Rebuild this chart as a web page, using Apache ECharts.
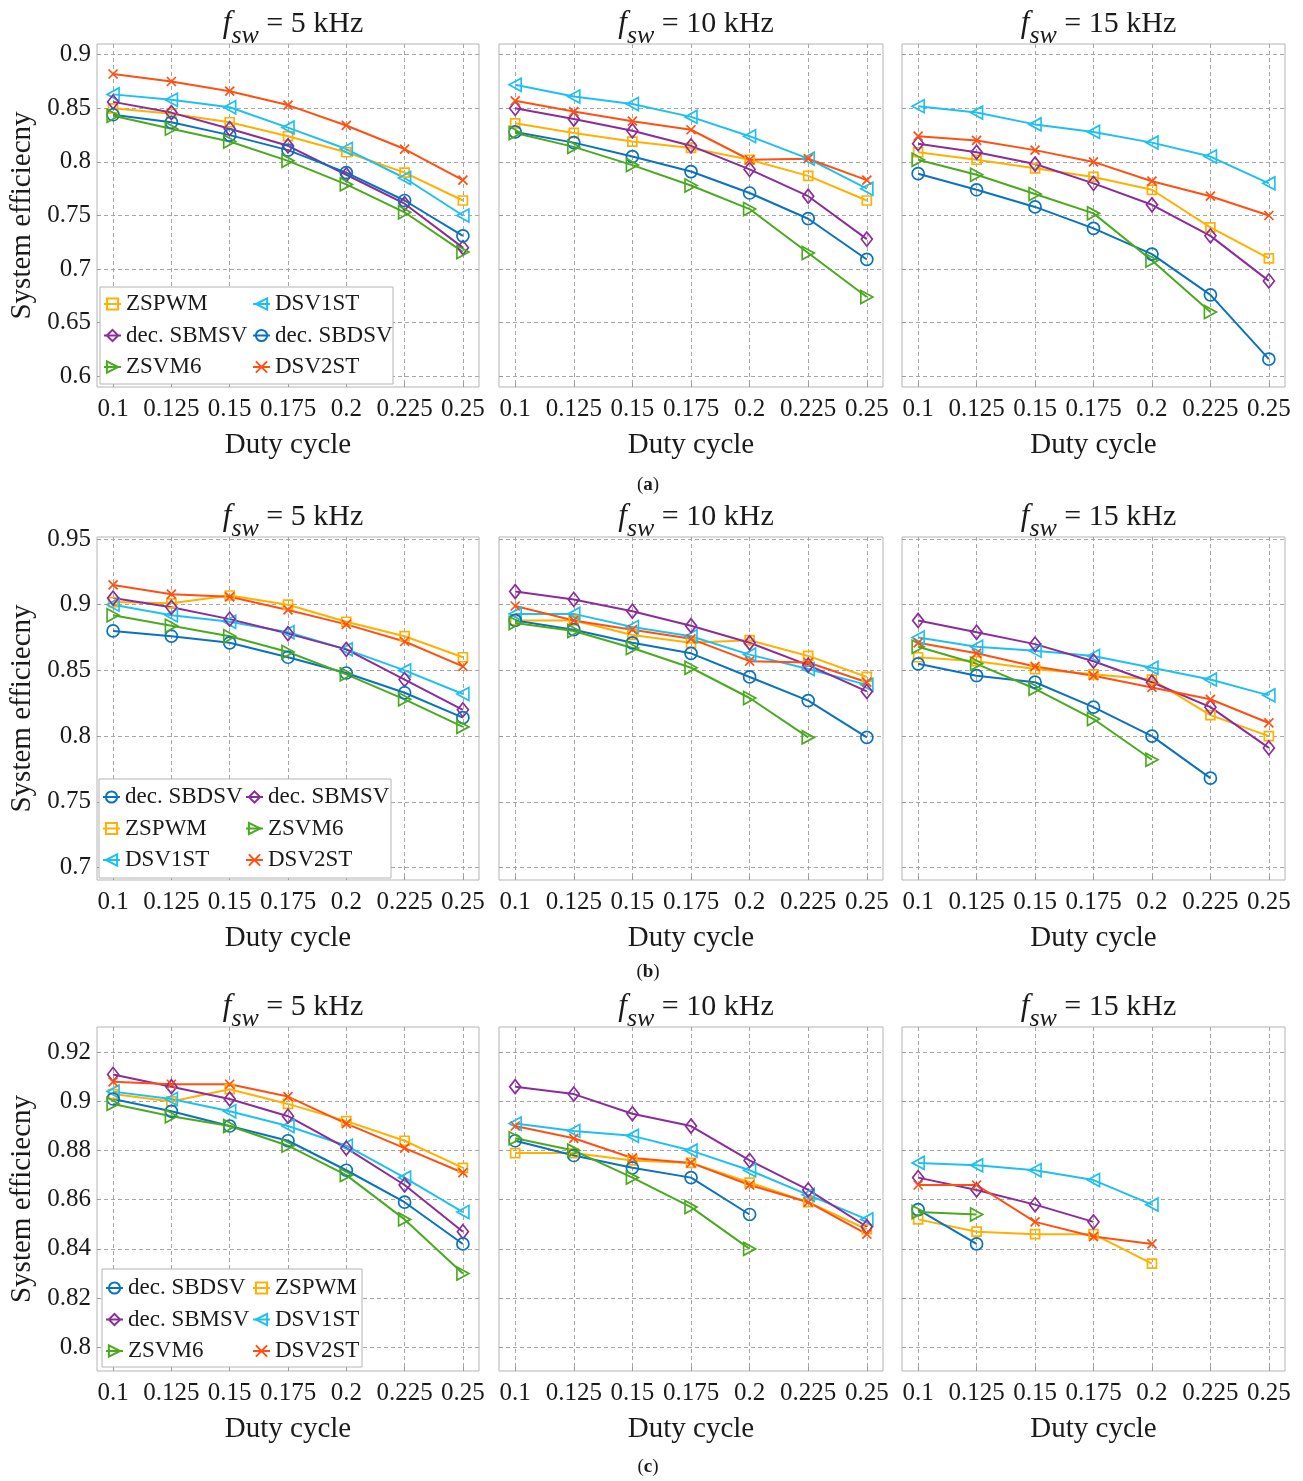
<!DOCTYPE html>
<html>
<head>
<meta charset="utf-8">
<title>System efficiency vs duty cycle</title>
<script src="https://cdn.jsdelivr.net/npm/echarts@6/dist/echarts.min.js"></script>
<style>
  html, body { margin: 0; padding: 0; background: #fff; }
  #main { width: 1303px; height: 1481px; }
</style>
</head>
<body>
<div id="main"></div>
<script>
// ---- data ----
const dutyCycle = [0.1, 0.125, 0.15, 0.175, 0.2, 0.225, 0.25];
const seriesNames = ['ZSPWM', 'DSV1ST', 'dec. SBMSV', 'dec. SBDSV', 'ZSVM6', 'DSV2ST'];
const freqLabels = ['5 kHz', '10 kHz', '15 kHz'];
const rowLetters = ['a', 'b', 'c'];

const yTicksA = [0.6, 0.65, 0.7, 0.75, 0.8, 0.85, 0.9];
const yTicksB = [0.7, 0.75, 0.8, 0.85, 0.9, 0.95];
const yTicksC = [0.8, 0.82, 0.84, 0.86, 0.88, 0.9, 0.92];

// (a)
const a5 = {
    'ZSPWM':      [0.850, 0.845, 0.837, 0.824, 0.809, 0.790, 0.764],
    'DSV1ST':     [0.863, 0.858, 0.851, 0.832, 0.812, 0.785, 0.750],
    'dec. SBMSV': [0.856, 0.846, 0.831, 0.815, 0.788, 0.761, 0.720],
    'dec. SBDSV': [0.844, 0.837, 0.825, 0.811, 0.790, 0.764, 0.731],
    'ZSVM6':      [0.843, 0.831, 0.819, 0.801, 0.779, 0.753, 0.716],
    'DSV2ST':     [0.882, 0.875, 0.866, 0.853, 0.834, 0.812, 0.783]
};
const a10 = {
    'ZSPWM':      [0.836, 0.827, 0.819, 0.813, 0.802, 0.787, 0.764],
    'DSV1ST':     [0.872, 0.861, 0.854, 0.842, 0.824, 0.803, 0.775],
    'dec. SBMSV': [0.850, 0.840, 0.829, 0.815, 0.793, 0.768, 0.728],
    'dec. SBDSV': [0.828, 0.818, 0.805, 0.791, 0.771, 0.747, 0.709],
    'ZSVM6':      [0.827, 0.814, 0.797, 0.778, 0.756, 0.715, 0.674],
    'DSV2ST':     [0.857, 0.847, 0.838, 0.830, 0.802, 0.803, 0.783]
};
const a15 = {
    'ZSPWM':      [0.809, 0.802, 0.794, 0.786, 0.774, 0.739, 0.710],
    'DSV1ST':     [0.852, 0.846, 0.835, 0.828, 0.818, 0.805, 0.780],
    'dec. SBMSV': [0.817, 0.809, 0.798, 0.780, 0.760, 0.731, 0.689],
    'dec. SBDSV': [0.789, 0.774, 0.758, 0.738, 0.714, 0.676, 0.616],
    'ZSVM6':      [0.802, 0.788, 0.770, 0.752, 0.708, 0.660, null],
    'DSV2ST':     [0.824, 0.820, 0.811, 0.800, 0.782, 0.768, 0.750]
};
// (b)
const b5 = {
    'ZSPWM':      [0.902, 0.901, 0.907, 0.900, 0.887, 0.876, 0.860],
    'DSV1ST':     [0.900, 0.892, 0.887, 0.879, 0.866, 0.850, 0.832],
    'dec. SBMSV': [0.905, 0.898, 0.889, 0.878, 0.866, 0.843, 0.820],
    'dec. SBDSV': [0.880, 0.876, 0.871, 0.860, 0.848, 0.833, 0.814],
    'ZSVM6':      [0.892, 0.884, 0.876, 0.864, 0.847, 0.828, 0.807],
    'DSV2ST':     [0.915, 0.908, 0.906, 0.896, 0.885, 0.872, 0.853]
};
const b10 = {
    'ZSPWM':      [0.888, 0.888, 0.877, 0.871, 0.873, 0.861, 0.845],
    'DSV1ST':     [0.893, 0.893, 0.883, 0.876, 0.862, 0.851, 0.839],
    'dec. SBMSV': [0.910, 0.904, 0.895, 0.884, 0.871, 0.854, 0.834],
    'dec. SBDSV': [0.888, 0.881, 0.871, 0.863, 0.845, 0.827, 0.799],
    'ZSVM6':      [0.886, 0.880, 0.867, 0.852, 0.829, 0.799, null],
    'DSV2ST':     [0.899, 0.888, 0.881, 0.874, 0.857, 0.856, 0.841]
};
const b15 = {
    'ZSPWM':      [0.860, 0.857, 0.851, 0.847, 0.843, 0.816, 0.800],
    'DSV1ST':     [0.875, 0.868, 0.865, 0.861, 0.852, 0.843, 0.831],
    'dec. SBMSV': [0.888, 0.879, 0.870, 0.857, 0.841, 0.822, 0.791],
    'dec. SBDSV': [0.855, 0.846, 0.841, 0.822, 0.800, 0.768, null],
    'ZSVM6':      [0.868, 0.855, 0.836, 0.813, 0.782, null, null],
    'DSV2ST':     [0.871, 0.863, 0.853, 0.846, 0.837, 0.828, 0.810]
};
// (c)
const c5 = {
    'ZSPWM':      [0.903, 0.900, 0.905, 0.899, 0.892, 0.884, 0.873],
    'DSV1ST':     [0.904, 0.901, 0.896, 0.890, 0.882, 0.869, 0.855],
    'dec. SBMSV': [0.911, 0.906, 0.901, 0.894, 0.881, 0.866, 0.847],
    'dec. SBDSV': [0.901, 0.896, 0.890, 0.884, 0.872, 0.859, 0.842],
    'ZSVM6':      [0.899, 0.894, 0.890, 0.882, 0.870, 0.852, 0.830],
    'DSV2ST':     [0.908, 0.907, 0.907, 0.902, 0.891, 0.881, 0.871]
};
const c10 = {
    'ZSPWM':      [0.879, 0.879, 0.876, 0.875, 0.867, 0.859, 0.848],
    'DSV1ST':     [0.891, 0.888, 0.886, 0.880, 0.872, 0.862, 0.852],
    'dec. SBMSV': [0.906, 0.903, 0.895, 0.890, 0.876, 0.864, 0.849],
    'dec. SBDSV': [0.884, 0.878, 0.873, 0.869, 0.854, null, null],
    'ZSVM6':      [0.885, 0.880, 0.869, 0.857, 0.840, null, null],
    'DSV2ST':     [0.890, 0.885, 0.877, 0.875, 0.866, 0.859, 0.846]
};
const c15 = {
    'ZSPWM':      [0.852, 0.847, 0.846, 0.846, 0.834, null, null],
    'DSV1ST':     [0.875, 0.874, 0.872, 0.868, 0.858, null, null],
    'dec. SBMSV': [0.869, 0.864, 0.858, 0.851, null, null, null],
    'dec. SBDSV': [0.856, 0.842, null, null, null, null, null],
    'ZSVM6':      [0.855, 0.854, null, null, null, null, null],
    'DSV2ST':     [0.866, 0.866, 0.851, 0.845, 0.842, null, null]
};

// legend layout per row: two columns of three entries
const legendCols = [
    [['ZSPWM', 'dec. SBMSV', 'ZSVM6'], ['DSV1ST', 'dec. SBDSV', 'DSV2ST']],
    [['dec. SBDSV', 'ZSPWM', 'DSV1ST'], ['dec. SBMSV', 'ZSVM6', 'DSV2ST']],
    [['dec. SBDSV', 'dec. SBMSV', 'ZSVM6'], ['ZSPWM', 'DSV1ST', 'DSV2ST']]
];

// ---- styling ----
const FONT = 'Liberation Serif';
const TXT = '#1a1a1a';
const colors = {
    'ZSPWM': '#FFB000',
    'DSV1ST': '#1EC0F0',
    'dec. SBMSV': '#8B2C9A',
    'dec. SBDSV': '#0B72BE',
    'ZSVM6': '#4AAA1E',
    'DSV2ST': '#FF5012'
};
const symbols = {
    'ZSPWM': ['rect', 9],
    'DSV1ST': ['path://M10,0L0,5L10,10Z', [12, 13]],
    'dec. SBMSV': ['diamond', [11, 14]],
    'dec. SBDSV': ['circle', 12],
    'ZSVM6': ['path://M0,0L10,5L0,10Z', [12, 13]],
    'DSV2ST': ['path://M0,0L10,10M10,0L0,10', 9]
};

const rowData = [[a5, a10, a15], [b5, b10, b15], [c5, c10, c15]];
const rowY = [
    {top: 44, height: 343, min: 0.59, max: 0.91, ticks: yTicksA},
    {top: 537, height: 343, min: 0.6905, max: 0.9515, ticks: yTicksB},
    {top: 1027, height: 344, min: 0.7903, max: 0.9303, ticks: yTicksC}
];
const colX = [{left: 97, width: 382}, {left: 499, width: 384}, {left: 902, width: 383}];
const legendPos = [
    {box: [100, 287, 293, 97], left: [103, 252], top: 292},
    {box: [99, 779, 292, 99], left: [102, 245], top: 785},
    {box: [102, 1269, 260, 98], left: [105, 252], top: 1276}
];

const fmt = v => String(+v.toFixed(3));

const grid = [], xAxis = [], yAxis = [], series = [], title = [], legend = [], graphic = [];

for (let r = 0; r < 3; r++) {
    for (let c = 0; c < 3; c++) {
        const idx = r * 3 + c;
        grid.push({
            left: colX[c].left, top: rowY[r].top, width: colX[c].width, height: rowY[r].height,
            show: true, borderColor: '#b4b4b4', borderWidth: 1, backgroundColor: '#fff',
            outerBoundsMode: 'none'
        });
        xAxis.push({
            type: 'value', gridIndex: idx, min: 0.0931, max: 0.2569,
            name: 'Duty cycle', nameLocation: 'middle', nameGap: 44,
            nameTextStyle: {fontFamily: FONT, fontSize: 29, color: TXT},
            axisLine: {show: false},
            axisTick: {show: true, inside: true, length: 4, customValues: dutyCycle, lineStyle: {color: '#9a9a9a'}},
            axisLabel: {customValues: dutyCycle, formatter: fmt, margin: 10,
                fontFamily: FONT, fontSize: 25, color: TXT},
            splitLine: {show: true, lineStyle: {color: '#a6a6a6', type: [4, 3], width: 1}}
        });
        yAxis.push({
            type: 'value', gridIndex: idx, min: rowY[r].min, max: rowY[r].max,
            name: c === 0 ? 'System efficiecny' : '', nameLocation: 'middle', nameGap: 60,
            nameTextStyle: {fontFamily: FONT, fontSize: 29, color: TXT},
            axisLine: {show: false},
            axisTick: {show: true, inside: true, length: 4, customValues: rowY[r].ticks, lineStyle: {color: '#9a9a9a'}},
            axisLabel: {show: c === 0, customValues: rowY[r].ticks, formatter: fmt, margin: 6,
                fontFamily: FONT, fontSize: 25, color: TXT},
            splitLine: {show: true, lineStyle: {color: '#a6a6a6', type: [4, 3], width: 1}}
        });
        title.push({
            text: '{i|f}{s|sw}{n| = ' + freqLabels[c] + '}',
            left: colX[c].left + colX[c].width / 2, top: rowY[r].top - 50, textAlign: 'center',
            textStyle: {
                fontWeight: 'normal',
                rich: {
                    i: {fontFamily: FONT, fontStyle: 'italic', fontWeight: 'normal', fontSize: 31, color: TXT},
                    s: {fontFamily: FONT, fontStyle: 'italic', fontWeight: 'normal', fontSize: 26, color: TXT, padding: [24, 0, 0, 0]},
                    n: {fontFamily: FONT, fontWeight: 'normal', fontSize: 30, color: TXT}
                }
            }
        });
        const panel = rowData[r][c];
        seriesNames.forEach(name => {
            const pts = [];
            dutyCycle.forEach((d, k) => {
                if (panel[name][k] != null) pts.push([d, panel[name][k]]);
            });
            series.push({
                name: name, type: 'line', xAxisIndex: idx, yAxisIndex: idx,
                data: pts,
                symbol: symbols[name][0], symbolSize: symbols[name][1],
                showAllSymbol: true, clip: false,
                lineStyle: {color: colors[name], width: 2},
                itemStyle: {color: 'rgba(255,255,255,0)', borderColor: colors[name], borderWidth: 1.7},
                emphasis: {disabled: true},
                animation: false
            });
        });
    }
    // legend for this row (two columns)
    const lp = legendPos[r];
    graphic.push({
        type: 'rect', z: 5,
        shape: {x: lp.box[0], y: lp.box[1], width: lp.box[2], height: lp.box[3]},
        style: {fill: '#fff', stroke: '#b4b4b4', lineWidth: 1}
    });
    for (let k = 0; k < 2; k++) {
        legend.push({
            data: legendCols[r][k], orient: 'vertical', left: lp.left[k], top: lp.top,
            padding: 0, itemGap: 7.5, itemWidth: 17, itemHeight: 14, z: 10,
            selectedMode: false,
            textStyle: {fontFamily: FONT, fontSize: 23, color: TXT, lineHeight: 24}
        });
    }
    // subfigure label
    graphic.push({
        type: 'text', x: 648, y: [485, 972, 1467][r],
        style: {
            text: '({b|' + rowLetters[r] + '})',
            fontFamily: FONT, fontSize: 19, fill: TXT, align: 'center', verticalAlign: 'middle',
            rich: {b: {fontFamily: FONT, fontSize: 19, fontWeight: 'bold', fill: TXT}}
        }
    });
}

const chart = echarts.init(document.getElementById('main'));
chart.setOption({
    backgroundColor: '#fff',
    animation: false,
    title: title,
    legend: legend,
    grid: grid,
    xAxis: xAxis,
    yAxis: yAxis,
    series: series,
    graphic: graphic
});
</script>
</body>
</html>
